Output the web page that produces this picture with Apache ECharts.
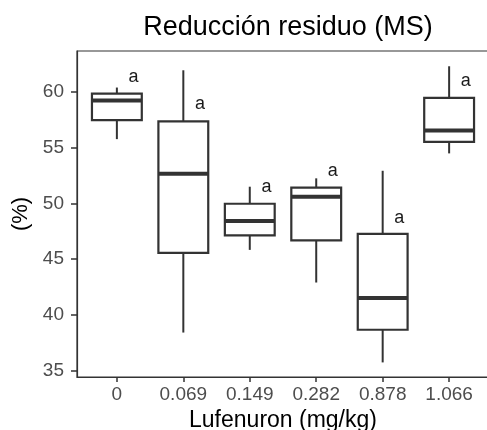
<!DOCTYPE html>
<html>
<head>
<meta charset="utf-8">
<style>
  html, body { margin: 0; padding: 0; background: #fff; }
  #chart { width: 487px; height: 430px; }
</style>
<script src="https://cdn.jsdelivr.net/npm/echarts@6/dist/echarts.min.js"></script>
</head>
<body>
<div id="chart"></div>
<script>
// dosis de Lufenuron (categorias del eje x)
var doses = ['0', '0.069', '0.149', '0.282', '0.878', '1.066'];
// estadisticos de cada caja
var whiskerLow = [55.76, 38.40, 45.82, 42.89, 35.72, 54.48];
var q1 = [57.46, 45.55, 47.13, 46.68, 38.65, 55.52];
var median = [59.23, 52.65, 48.41, 50.59, 41.51, 56.54];
var q3 = [59.85, 57.35, 49.96, 51.40, 47.25, 59.46];
var whiskerHigh = [60.39, 61.94, 51.49, 52.24, 52.92, 62.30];
// letras de significancia y su altura
var letters = ['a', 'a', 'a', 'a', 'a', 'a'];
var letterY = [61.29, 58.87, 51.49, 52.90, 48.71, 60.96];
var yTicks = [35, 40, 45, 50, 55, 60];

var boxData = [];
for (var i = 0; i < doses.length; i++) {
    boxData.push([i, whiskerLow[i], q1[i], median[i], q3[i], whiskerHigh[i], letterY[i]]);
}

var lineCol = '#333333';

function renderBox(params, api) {
    var x = api.value(0);
    var halfW = 0.375;
    var pLow = api.coord([x, api.value(1)]);
    var pQ1L = api.coord([x - halfW, api.value(2)]);
    var pQ1R = api.coord([x + halfW, api.value(2)]);
    var pMedL = api.coord([x - halfW, api.value(3)]);
    var pMedR = api.coord([x + halfW, api.value(3)]);
    var pQ3L = api.coord([x - halfW, api.value(4)]);
    var pQ3C = api.coord([x, api.value(4)]);
    var pQ1C = api.coord([x, api.value(2)]);
    var pHigh = api.coord([x, api.value(5)]);
    var pLetter = api.coord([x + 0.25, api.value(6)]);
    return {
        type: 'group',
        children: [
            {type: 'line', shape: {x1: pHigh[0], y1: pHigh[1], x2: pQ3C[0], y2: pQ3C[1]},
                style: {stroke: lineCol, lineWidth: 2}},
            {type: 'line', shape: {x1: pLow[0], y1: pLow[1], x2: pQ1C[0], y2: pQ1C[1]},
                style: {stroke: lineCol, lineWidth: 2}},
            {type: 'rect', shape: {x: pQ3L[0], y: pQ3L[1], width: pQ1R[0] - pQ1L[0], height: pQ1L[1] - pQ3L[1]},
                style: {fill: '#fff', stroke: lineCol, lineWidth: 2.2}},
            {type: 'line', shape: {x1: pMedL[0], y1: pMedL[1], x2: pMedR[0], y2: pMedR[1]},
                style: {stroke: lineCol, lineWidth: 4}},
            {type: 'text', x: pLetter[0], y: pLetter[1],
                style: {text: letters[params.dataIndex], fill: '#1a1a1a', font: '18px "Liberation Sans", Arial, sans-serif',
                    align: 'center', verticalAlign: 'middle'}}
        ]
    };
}

var chart = echarts.init(document.getElementById('chart'));
chart.setOption({
    animation: false,
    backgroundColor: '#fff',
    textStyle: {fontFamily: '"Liberation Sans", Arial, sans-serif'},
    title: {
        text: 'Reducción residuo (MS)',
        left: 283,
        top: 9,
        textAlign: 'center',
        textStyle: {fontSize: 27, fontWeight: 'normal', color: '#000', fontFamily: '"Liberation Sans", Arial, sans-serif'}
    },
    grid: {
        left: 77, right: -2, top: 51, bottom: 53,
        outerBoundsMode: 'none',
        containLabel: false,
        show: true, borderColor: lineCol, borderWidth: 1.2, backgroundColor: '#fff'
    },
    xAxis: {
        type: 'value',
        min: -0.6,
        max: 5.6,
        name: 'Lufenuron (mg/kg)',
        nameLocation: 'middle',
        nameGap: 31,
        nameTextStyle: {fontSize: 23, color: '#000'},
        splitLine: {show: false},
        axisLine: {show: true, onZero: false, lineStyle: {color: lineCol, width: 1.2}},
        axisTick: {show: true, length: 5, customValues: [0, 1, 2, 3, 4, 5], lineStyle: {color: lineCol, width: 1.5}},
        axisLabel: {
            customValues: [0, 1, 2, 3, 4, 5],
            margin: 8,
            fontSize: 19,
            color: '#4d4d4d',
            formatter: function (v) { return doses[Math.round(v)]; }
        }
    },
    yAxis: {
        type: 'value',
        min: 34.41,
        max: 63.67,
        name: '(%)',
        nameLocation: 'middle',
        nameGap: 41,
        nameRotate: 90,
        nameTextStyle: {fontSize: 22, color: '#000'},
        splitLine: {show: false},
        axisLine: {show: true, onZero: false, lineStyle: {color: lineCol, width: 1.2}},
        axisTick: {show: true, length: 6, customValues: yTicks, lineStyle: {color: lineCol, width: 1.5}},
        axisLabel: {
            customValues: yTicks,
            margin: 13,
            fontSize: 19,
            color: '#4d4d4d'
        }
    },
    series: [{
        type: 'custom',
        renderItem: renderBox,
        data: boxData,
        encode: {x: 0, y: [1, 2, 3, 4, 5]}
    }]
});
</script>
</body>
</html>
